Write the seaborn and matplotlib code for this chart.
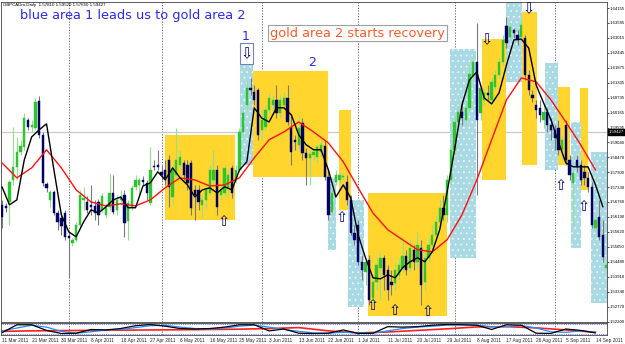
import numpy as np
import pandas as pd
import matplotlib
matplotlib.use("Agg")
import matplotlib.pyplot as plt
import matplotlib.transforms as mtransforms
from matplotlib.patches import Rectangle
import seaborn as sns

# ---------------- data ----------------
header = "GBPCADm,Daily  1.57810 1.59520 1.57650 1.59427"
first_bar_date = "2011-03-11"
last_price = 1.59427

opens = [
    1.5665, 1.5661, 1.5676, 1.5760, 1.5810, 1.5867, 1.5886, 1.5989, 1.5962, 1.5958,
    1.6061, 1.5932, 1.5745, 1.5684, 1.5714, 1.5634, 1.5615, 1.5634, 1.5547, 1.5520,
    1.5532, 1.5589, 1.5684, 1.5676, 1.5665, 1.5661, 1.5676, 1.5646, 1.5627, 1.5657,
    1.5711, 1.5646, 1.5684, 1.5703, 1.5604, 1.5657, 1.5734, 1.5741, 1.5760, 1.5749,
    1.5672, 1.5814, 1.5817, 1.5791, 1.5798, 1.5836, 1.5695, 1.5779, 1.5817, 1.5825,
    1.5817, 1.5825, 1.5722, 1.5722, 1.5665, 1.5684, 1.5711, 1.5760, 1.5798, 1.5703,
    1.5711, 1.5730, 1.5806, 1.5760, 1.5798, 1.5943, 1.6046, 1.6111, 1.6095, 1.6103,
    1.5951, 1.5962, 1.6027, 1.6046, 1.6065, 1.6015, 1.6046, 1.6073, 1.5962, 1.5913,
    1.5894, 1.5977, 1.5863, 1.5844, 1.5856, 1.5848, 1.5867, 1.5890, 1.5772, 1.5638,
    1.5753, 1.5760, 1.5772, 1.5753, 1.5684, 1.5558, 1.5589, 1.5448, 1.5410, 1.5456,
    1.5311, 1.5372, 1.5425, 1.5463, 1.5417, 1.5372, 1.5368, 1.5398, 1.5425, 1.5471,
    1.5425, 1.5494, 1.5448, 1.5501, 1.5372, 1.5463, 1.5513, 1.5551, 1.5600, 1.5654,
    1.5627, 1.5760, 1.5875, 1.5981, 1.6019, 1.5989, 1.6035, 1.6156, 1.6210, 1.6015,
    1.6065, 1.6092, 1.6065, 1.6115, 1.6160, 1.6210, 1.6347, 1.6305, 1.6332, 1.6313,
    1.6305, 1.6301, 1.6160, 1.6084, 1.6046, 1.6035, 1.5989, 1.6019, 1.5970, 1.5951,
    1.5958, 1.5875, 1.5970, 1.5836, 1.5749, 1.5836, 1.5817, 1.5791, 1.5768, 1.5734,
    1.5577, 1.5619, 1.5551, 1.5425]
highs = [
    1.5684, 1.5672, 1.5760, 1.5962, 1.5924, 1.5913, 1.6015, 1.5996, 1.5989, 1.6073,
    1.6080, 1.5943, 1.5753, 1.5722, 1.5722, 1.5646, 1.5638, 1.5646, 1.5558, 1.5539,
    1.5600, 1.5722, 1.5734, 1.5699, 1.5741, 1.5684, 1.5688, 1.5711, 1.5672, 1.5787,
    1.5779, 1.5703, 1.5722, 1.5722, 1.5684, 1.5741, 1.5779, 1.5768, 1.5775, 1.5760,
    1.5886, 1.5836, 1.5875, 1.5817, 1.5836, 1.5856, 1.5817, 1.5958, 1.5875, 1.5836,
    1.5836, 1.5836, 1.5741, 1.5741, 1.5703, 1.5741, 1.5817, 1.5875, 1.5817, 1.5741,
    1.5817, 1.5798, 1.5817, 1.5817, 1.5958, 1.6035, 1.6141, 1.6149, 1.6122, 1.6111,
    1.6027, 1.6046, 1.6092, 1.6084, 1.6122, 1.6084, 1.6095, 1.6122, 1.6008, 1.5932,
    1.6008, 1.5996, 1.5882, 1.5875, 1.5882, 1.5901, 1.5913, 1.5913, 1.5798, 1.5730,
    1.5798, 1.5791, 1.5787, 1.5779, 1.5703, 1.5589, 1.5608, 1.5474, 1.5463, 1.5474,
    1.5398, 1.5463, 1.5486, 1.5474, 1.5436, 1.5417, 1.5448, 1.5463, 1.5532, 1.5494,
    1.5532, 1.5513, 1.5562, 1.5532, 1.5494, 1.5539, 1.5589, 1.5627, 1.5684, 1.5703,
    1.5779, 1.5894, 1.6008, 1.6046, 1.6065, 1.6065, 1.6198, 1.6236, 1.6358, 1.6122,
    1.6111, 1.6122, 1.6149, 1.6179, 1.6225, 1.6313, 1.6381, 1.6362, 1.6339, 1.6332,
    1.6370, 1.6313, 1.6179, 1.6103, 1.6065, 1.6065, 1.6046, 1.6035, 1.5996, 1.5970,
    1.5989, 1.5932, 1.5989, 1.5856, 1.5798, 1.5856, 1.5836, 1.5817, 1.5791, 1.5753,
    1.5627, 1.5684, 1.5608, 1.5448]
lows = [
    1.5577, 1.5638, 1.5589, 1.5741, 1.5760, 1.5856, 1.5875, 1.5951, 1.5943, 1.5951,
    1.5920, 1.5737, 1.5714, 1.5657, 1.5627, 1.5570, 1.5551, 1.5532, 1.5387, 1.5509,
    1.5524, 1.5577, 1.5646, 1.5634, 1.5627, 1.5608, 1.5589, 1.5634, 1.5615, 1.5646,
    1.5631, 1.5627, 1.5665, 1.5543, 1.5532, 1.5646, 1.5722, 1.5703, 1.5741, 1.5684,
    1.5665, 1.5798, 1.5798, 1.5760, 1.5741, 1.5657, 1.5665, 1.5760, 1.5798, 1.5760,
    1.5722, 1.5627, 1.5608, 1.5646, 1.5619, 1.5654, 1.5703, 1.5741, 1.5627, 1.5684,
    1.5695, 1.5703, 1.5692, 1.5749, 1.5791, 1.5932, 1.6027, 1.6084, 1.6046, 1.5913,
    1.5913, 1.5951, 1.6015, 1.6027, 1.5996, 1.5996, 1.6027, 1.5970, 1.5817, 1.5875,
    1.5875, 1.5836, 1.5741, 1.5741, 1.5836, 1.5829, 1.5848, 1.5760, 1.5608, 1.5627,
    1.5741, 1.5749, 1.5760, 1.5665, 1.5551, 1.5513, 1.5436, 1.5379, 1.5360, 1.5284,
    1.5292, 1.5341, 1.5303, 1.5341, 1.5303, 1.5322, 1.5341, 1.5379, 1.5410, 1.5398,
    1.5410, 1.5417, 1.5425, 1.5284, 1.5341, 1.5448, 1.5494, 1.5532, 1.5577, 1.5608,
    1.5600, 1.5741, 1.5856, 1.5958, 1.5970, 1.5970, 1.6019, 1.6141, 1.5703, 1.5989,
    1.6046, 1.6065, 1.6046, 1.6103, 1.6149, 1.6198, 1.6263, 1.6294, 1.6301, 1.6275,
    1.6294, 1.6141, 1.6084, 1.6057, 1.5996, 1.5981, 1.5958, 1.5943, 1.5913, 1.5875,
    1.5856, 1.5836, 1.5817, 1.5760, 1.5581, 1.5791, 1.5741, 1.5741, 1.5714, 1.5577,
    1.5562, 1.5532, 1.5448, 1.5417]
closes = [
    1.5619, 1.5654, 1.5753, 1.5810, 1.5867, 1.5890, 1.5996, 1.5962, 1.5970, 1.6057,
    1.5932, 1.5749, 1.5730, 1.5714, 1.5634, 1.5600, 1.5585, 1.5543, 1.5539, 1.5532,
    1.5589, 1.5703, 1.5692, 1.5646, 1.5657, 1.5634, 1.5627, 1.5699, 1.5654, 1.5711,
    1.5638, 1.5684, 1.5695, 1.5596, 1.5672, 1.5730, 1.5760, 1.5760, 1.5753, 1.5711,
    1.5798, 1.5810, 1.5810, 1.5779, 1.5768, 1.5734, 1.5798, 1.5836, 1.5848, 1.5779,
    1.5749, 1.5654, 1.5703, 1.5676, 1.5684, 1.5722, 1.5798, 1.5798, 1.5657, 1.5722,
    1.5806, 1.5779, 1.5711, 1.5798, 1.5943, 1.6015, 1.6111, 1.6103, 1.6065, 1.5932,
    1.5989, 1.6027, 1.6073, 1.6065, 1.6015, 1.6065, 1.6073, 1.5981, 1.5867, 1.5905,
    1.5958, 1.5863, 1.5844, 1.5859, 1.5867, 1.5886, 1.5894, 1.5772, 1.5627, 1.5711,
    1.5779, 1.5779, 1.5775, 1.5684, 1.5558, 1.5532, 1.5448, 1.5417, 1.5448, 1.5303,
    1.5372, 1.5436, 1.5463, 1.5398, 1.5341, 1.5360, 1.5417, 1.5436, 1.5471, 1.5417,
    1.5501, 1.5448, 1.5513, 1.5360, 1.5463, 1.5513, 1.5551, 1.5600, 1.5654, 1.5627,
    1.5760, 1.5875, 1.5981, 1.6019, 1.5996, 1.6035, 1.6164, 1.6210, 1.5989, 1.6111,
    1.6092, 1.6084, 1.6134, 1.6160, 1.6210, 1.6294, 1.6282, 1.6343, 1.6320, 1.6294,
    1.6351, 1.6160, 1.6103, 1.6073, 1.6027, 1.6008, 1.6019, 1.5970, 1.5951, 1.5920,
    1.5875, 1.5913, 1.5836, 1.5779, 1.5787, 1.5810, 1.5760, 1.5768, 1.5734, 1.5589,
    1.5608, 1.5543, 1.5467, 1.5436]

# black fast average, one value every 2nd bar
fast_ma_step2 = [
    1.5734, 1.5665, 1.5684, 1.5836, 1.5924, 1.5951, 1.5974, 1.5798, 1.5627, 1.5562,
    1.5543, 1.5600, 1.5646, 1.5634, 1.5657, 1.5684, 1.5695, 1.5654, 1.5654, 1.5737,
    1.5749, 1.5791, 1.5760, 1.5806, 1.5768, 1.5741, 1.5695, 1.5722, 1.5730, 1.5711,
    1.5734, 1.5722, 1.5798, 1.5829, 1.6035, 1.5996, 1.5981, 1.6035, 1.6035, 1.6008,
    1.5932, 1.5894, 1.5875, 1.5875, 1.5798, 1.5695, 1.5741, 1.5692, 1.5551, 1.5463,
    1.5387, 1.5383, 1.5398, 1.5387, 1.5425, 1.5448, 1.5463, 1.5448, 1.5486, 1.5570,
    1.5714, 1.5875, 1.6046, 1.6141, 1.6172, 1.6073, 1.6050, 1.6092, 1.6198, 1.6294,
    1.6297, 1.6263, 1.6122, 1.6054, 1.5989, 1.5905, 1.5825, 1.5810, 1.5810, 1.5810,
    1.5741, 1.5657]
# red slow average, one value every 4th bar
slow_ma_step4 = [
    1.5825, 1.5768, 1.5806, 1.5875, 1.5806, 1.5722, 1.5676, 1.5661, 1.5669, 1.5661,
    1.5684, 1.5730, 1.5768, 1.5760, 1.5737, 1.5741, 1.5768, 1.5844, 1.5913, 1.5943,
    1.5981, 1.5943, 1.5901, 1.5829, 1.5730, 1.5634, 1.5570, 1.5532, 1.5494, 1.5486,
    1.5532, 1.5627, 1.5760, 1.5913, 1.6065, 1.6149, 1.6134, 1.6065, 1.5981, 1.5894,
    1.5798]
# oscillator sub-window
osc_main_step4 = [10, 95, 95, 35, 2, 5, 45, 40, 55, 85, 98, 80, 55, 50, 55, 70, 95, 95, 30, 50,
                  5, 2, 5, 40, 3, 5, 75, 70, 75, 90, 98, 95, 90, 45, 95, 90, 5, 3, 50, 35, 8]
osc_signal_step4 = [30, 60, 90, 70, 25, 5, 20, 40, 45, 65, 85, 90, 70, 55, 50, 60, 80, 92, 70, 45,
                    25, 8, 5, 15, 12, 5, 30, 55, 70, 80, 92, 95, 92, 75, 75, 88, 60, 20, 15, 30, 15]
osc_slow_step8 = [25, 30, 33, 35, 38, 40, 42, 45, 48, 55, 65, 30, 8, 18, 35, 52, 72, 75, 62, 40, 15]

price_ticks = [1.64155, 1.63585, 1.63015, 1.62445, 1.61875, 1.61305, 1.60735, 1.60165,
               1.59595, 1.59040, 1.58470, 1.57900, 1.57330, 1.56760, 1.56190, 1.55620,
               1.55050, 1.54480, 1.53910, 1.53340, 1.52770, 1.52200]

# annotation zones: (first bar, last bar, top price, bottom price)
gold_zones = [(43.9, 62.8, 1.5931, 1.5607), (67.6, 87.8, 1.6175, 1.5771),
              (90.8, 94.0, 1.6027, 1.5645), (98.6, 119.9, 1.5710, 1.5241),
              (129.3, 136.0, 1.6297, 1.5760), (140.1, 144.1, 1.6400, 1.5817),
              (150.0, 153.0, 1.6114, 1.5817), (155.7, 158.1, 1.6110, 1.5722)]
blue_zones = [(64.1, 67.6, 1.6210, 1.5817), (87.8, 90.0, 1.5771, 1.5493),
              (93.2, 97.5, 1.5684, 1.5276), (120.9, 127.9, 1.6259, 1.5462),
              (136.0, 140.1, 1.6440, 1.6133), (146.5, 149.8, 1.6206, 1.5798),
              (153.5, 156.0, 1.5981, 1.5500), (158.9, 163.3, 1.5866, 1.5291)]
marker_box = (64.1, 67.6, 1.6282, 1.6202)
down_arrows = [(65.85, 1.6243), (130.6, 1.6294), (142.0, 1.6412)]
up_arrows = [(59.8, 1.5600), (91.6, 1.5615), (99.9, 1.5283), (105.9, 1.5264),
             (114.7, 1.5257), (150.6, 1.5737), (156.8, 1.5657)]

# ---------------- figure ----------------
sns.set_theme(style="white")
plt.rcParams["font.family"] = ["DejaVu Sans"]
plt.rcParams["hatch.linewidth"] = 0.45

W, H = 625, 344
fig = plt.figure(figsize=(W / 100, H / 100), dpi=100, facecolor="white")
ax = fig.add_axes([1 / W, 1 - 322 / H, 606 / W, 320 / H])
axo = fig.add_axes([1 / W, 1 - 335 / H, 606 / W, 12 / H], sharex=ax)

n = len(closes)
days = pd.date_range(first_bar_date, periods=260, freq="D")
days = days[days.dayofweek != 5][:n]
x = np.arange(n)
o, h, l, c = map(np.asarray, (opens, highs, lows, closes))

# zones
for (a, b, top, bot) in gold_zones:
    ax.add_patch(Rectangle((a, bot), b - a, top - bot, facecolor="#FFD52E",
                           edgecolor="none", lw=0, zorder=1))
for (a, b, top, bot) in blue_zones:
    ax.add_patch(Rectangle((a, bot), b - a, top - bot, facecolor="#A9D9E3",
                           edgecolor="#F4FBFD", hatch="...", lw=0, zorder=1.2))
a, b, top, bot = marker_box
ax.add_patch(Rectangle((a, bot), b - a, top - bot, facecolor="white",
                       edgecolor="#7283B8", lw=0.8, zorder=2))

# month separators
month_start = [i for i in range(1, n) if days[i].month != days[i - 1].month]
for axis in (ax, axo):
    for i in month_start:
        axis.axvline(i, color="#555555", lw=0.6, ls=(0, (1.5, 1.8)), zorder=0.5)

# current price line
ax.axhline(last_price, color="#C8C8C8", lw=0.8, zorder=0.8)

# candles
up = c >= o
ax.vlines(x[up], l[up], h[up], color="#8FE38F", lw=0.8, zorder=3)
ax.vlines(x[~up], l[~up], h[~up], color="#7A7A7A", lw=0.8, zorder=3)
ax.bar(x[up], c[up] - o[up], bottom=o[up], width=0.62, color="#2DC52D",
       edgecolor="#2DC52D", lw=0.3, zorder=4)
ax.bar(x[~up], c[~up] - o[~up], bottom=o[~up], width=0.62, color="#000066",
       edgecolor="#000066", lw=0.3, zorder=4)

# moving averages
sns.lineplot(x=x[::4], y=slow_ma_step4, ax=ax, color="#FF1010", lw=1.0,
             legend=False, zorder=5)
sns.lineplot(x=x[::2], y=fast_ma_step2, ax=ax, color="black", lw=1.0,
             legend=False, zorder=6)

# arrows
for (i, p) in down_arrows:
    ax.text(i, p, "\u21e9", color="#000080", fontsize=10.5, ha="center",
            va="center", zorder=8)
for (i, p) in up_arrows:
    ax.text(i, p, "\u21e7", color="#000080", fontsize=10.5, ha="center",
            va="center", zorder=8)

ax.set_xlim(-0.27, 163.1)
ax.set_ylim(1.52184, 1.64384)
ax.set_yticks(price_ticks)
ax.set_yticklabels([f"{t:.5f}" for t in price_ticks])
ax.yaxis.tick_right()
ax.tick_params(axis="y", labelsize=3.1, length=1.5, width=0.5, pad=0.6,
               colors="black", direction="out")
for lab in ax.get_yticklabels():
    lab.set_family("Liberation Sans")
ax.tick_params(axis="x", bottom=False, labelbottom=False)
ax.set_xlabel("")
ax.set_ylabel("")
for s in ax.spines.values():
    s.set_color("#444444")
    s.set_linewidth(0.6)

trans = mtransforms.blended_transform_factory(ax.transAxes, ax.transData)
ax.text(1.003, last_price, f"{last_price:.5f}", transform=trans, fontsize=3.1,
        color="white", va="center", ha="left", family="Liberation Sans",
        bbox=dict(facecolor="black", edgecolor="black", pad=0.5))

# oscillator
sns.lineplot(x=x[::8], y=osc_slow_step8, ax=axo, color="#FF2020", lw=1.2,
             legend=False)
sns.lineplot(x=x[::4], y=osc_signal_step4, ax=axo, color="#1E90FF", lw=0.9,
             legend=False)
sns.lineplot(x=x[::4], y=osc_main_step4, ax=axo, color="black", lw=0.9,
             legend=False)
for lev in (0, 100):
    axo.axhline(lev, color="#4A5BFF", lw=0.6, ls=(0, (1, 1.2)), zorder=0.6)
axo.set_ylim(-14, 114)
axo.set_yticks([])
axo.set_ylabel("")
tick_idx = x[::8]
axo.set_xticks(tick_idx)
axo.set_xticklabels([f"{d.day} {d.strftime('%b %Y')}" for d in days[::8]],
                    ha="left", fontsize=3.4, family="Liberation Sans")
axo.tick_params(axis="x", length=1.5, width=0.4, pad=1)
for s in axo.spines.values():
    s.set_color("#444444")
    s.set_linewidth(0.6)

# texts
fig.text(3 / W, 1 - 5 / H, header, fontsize=3.2, color="black", va="center",
         ha="left", family="Liberation Sans")
fig.text(20 / W, 1 - 15 / H, "blue area 1 leads us to gold area 2",
         fontsize=9.3, color="#2B2BF0", va="center", ha="left")
fig.text(270 / W, 1 - 33 / H, "gold area 2 starts recovery", fontsize=9.3,
         color="#FF5A28", va="center", ha="left",
         bbox=dict(facecolor="white", edgecolor="#A0A0A0", lw=0.8,
                   boxstyle="square,pad=0.15"))
fig.text(246 / W, 1 - 37 / H, "1", fontsize=9, color="#2B2BF0", va="center",
         ha="center")
fig.text(312 / W, 1 - 63 / H, "2", fontsize=9, color="#2B2BF0", va="center",
         ha="center")

fig.savefig("out.png", dpi=100, facecolor="white")
